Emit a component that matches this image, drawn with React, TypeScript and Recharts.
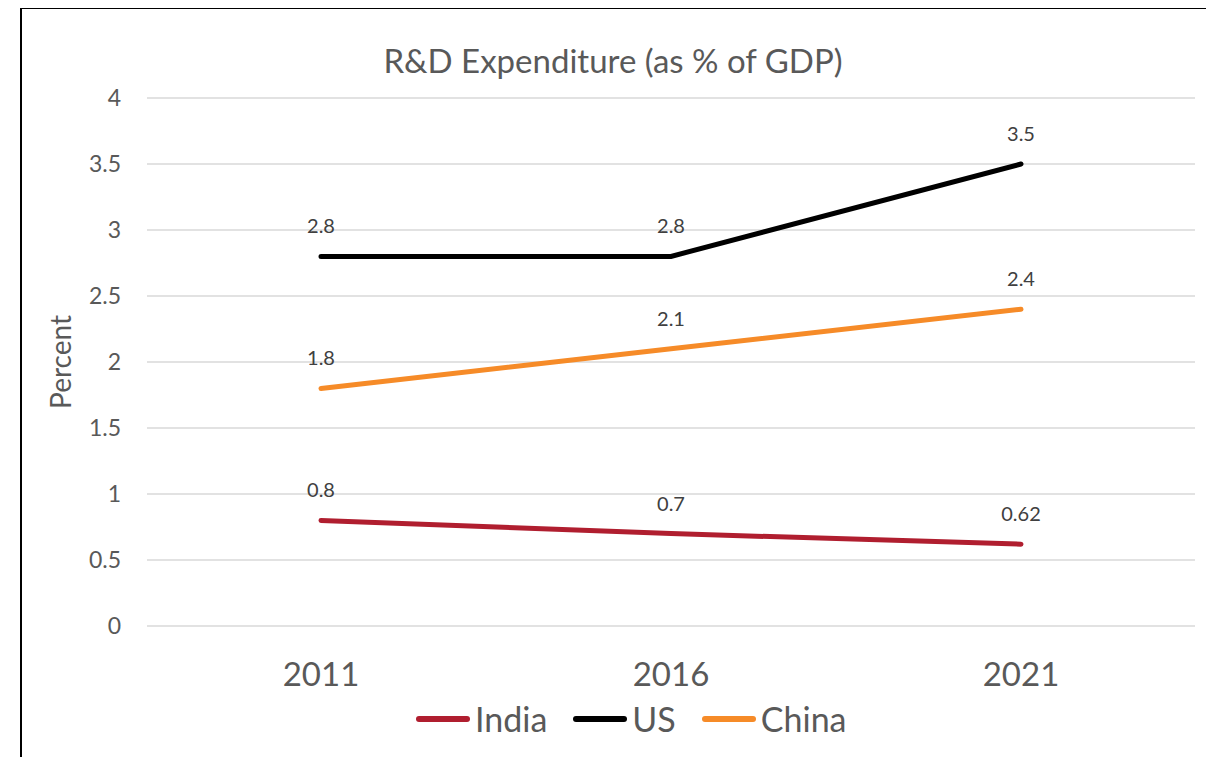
import React from 'react';
import { LineChart, Line, XAxis, YAxis, CartesianGrid, Legend, LabelList } from 'recharts';

const years = ['2011', '2016', '2021'];
const india = [0.8, 0.7, 0.62];
const us = [2.8, 2.8, 3.5];
const china = [1.8, 2.1, 2.4];
const yTicks = [0, 0.5, 1, 1.5, 2, 2.5, 3, 3.5, 4];

const data = years.map((year, i) => ({ year, India: india[i], US: us[i], China: china[i] }));

const series = [
  { key: 'India', color: '#B01E2F' },
  { key: 'US', color: '#000000' },
  { key: 'China', color: '#F68B28' },
];

const FONT = 'Lato, "Open Sans", sans-serif';
const GREY = '#595959';

const LegendRow = () => (
  <div style={{ display: 'flex', alignItems: 'center', fontFamily: FONT, fontSize: 34, color: GREY }}>
    {series.map((s) => (
      <div key={s.key} style={{ display: 'flex', alignItems: 'center', marginRight: 26 }}>
        <div style={{ width: 54, height: 6, borderRadius: 3, background: s.color, marginRight: 5 }} />
        <span>{s.key}</span>
      </div>
    ))}
  </div>
);

const App = () => {
  return (
    <div style={{ position: 'relative', margin: -8, width: 1214, height: 765, overflow: 'hidden', background: '#fff' }}>
      <div style={{ position: 'absolute', left: 1, top: 0, width: 1, height: 765, background: '#CFCFCF' }} />
      <div style={{ position: 'absolute', left: 20, top: 7, width: 1300, height: 900, border: '2px solid #000' }} />
      <div
        style={{
          position: 'absolute', left: 0, top: 40, width: 1226, textAlign: 'center',
          fontFamily: FONT, fontSize: 33, color: GREY, lineHeight: '40px',
        }}
      >
        R&amp;D Expenditure (as % of GDP)
      </div>
      <div style={{ position: 'absolute', left: 0, top: 0 }}>
        <LineChart width={1214} height={765} data={data} margin={{ top: 98, right: 19, bottom: 79, left: 47 }}>
          <CartesianGrid vertical={false} stroke="#D9D9D9" strokeWidth={1.5} />
          <XAxis
            dataKey="year"
            padding={{ left: 174, right: 174 }}
            axisLine={false}
            tickLine={false}
            tickMargin={31}
            height={60}
            tick={{ fontSize: 33, fill: GREY, fontFamily: FONT }}
          />
          <YAxis
            domain={[0, 4]}
            ticks={yTicks}
            axisLine={false}
            tickLine={false}
            width={100}
            tickMargin={20}
            tick={{ fontSize: 23, fill: GREY, fontFamily: FONT }}
            label={{
              content: (props: any) => {
                const vb = props.viewBox || { y: 98, height: 528 };
                const cy = vb.y + vb.height / 2;
                return (
                  <text
                    x={60}
                    y={cy}
                    transform={`rotate(-90 60 ${cy})`}
                    textAnchor="middle"
                    dominantBaseline="central"
                    fontSize={28}
                    fill={GREY}
                    fontFamily={FONT}
                  >
                    Percent
                  </text>
                );
              },
            }}
          />
          <Legend
            verticalAlign="middle"
            align="center"
            wrapperStyle={{ top: 698, left: 416, width: 'auto' }}
            content={() => <LegendRow />}
          />
          {series.map((s) => (
            <Line
              key={s.key}
              type="linear"
              dataKey={s.key}
              stroke={s.color}
              strokeWidth={5}
              strokeLinecap="round"
              dot={false}
              activeDot={false}
              isAnimationActive={false}
            >
              <LabelList dataKey={s.key} position="top" offset={23} fill="#404040" fontSize={20} fontFamily={FONT} />
            </Line>
          ))}
        </LineChart>
      </div>
    </div>
  );
};

export default App;
